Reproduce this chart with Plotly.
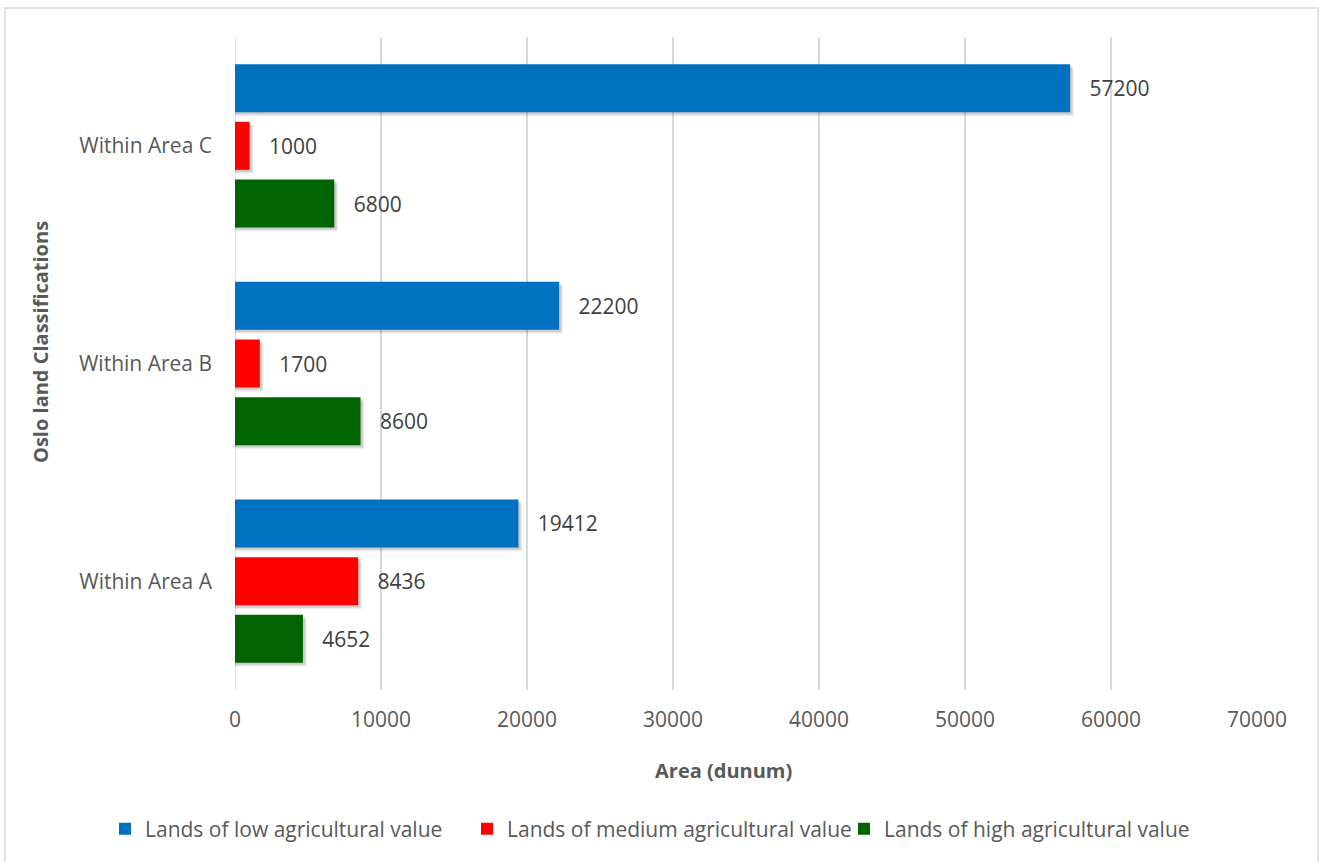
import plotly.graph_objects as go

categories = ["Within Area A", "Within Area B", "Within Area C"]
low_values = [19412, 22200, 57200]
medium_values = [8436, 1700, 1000]
high_values = [4652, 8600, 6800]
series_names = ["Lands of low agricultural value",
                "Lands of medium agricultural value",
                "Lands of high agricultural value"]
colors = ["#0070C0", "#FF0000", "#006400"]
x_ticks = [0, 10000, 20000, 30000, 40000, 50000, 60000, 70000]

W, H = 1322, 862
L, R, T, B = 235, 65, 37, 172
pw, ph = W - L - R, H - T - B

FONT = "Open Sans"
TXT = "#595959"
FS = 21
NB = "\u00a0"

# geometry of bars within one category band (in category units)
band_px = ph / len(categories)
bar_w = 48 / band_px
pitch = 57.7 / band_px
offsets = [pitch - bar_w / 2, -bar_w / 2, -pitch - bar_w / 2]  # low, medium, high
xunit_per_px = 70000 / pw

series = [low_values, medium_values, high_values]


def px_x(p):
    return (p - L) / pw


def px_y(p):
    return (H - B - p) / ph


fig = go.Figure()

# soft drop shadows (drawn first)
for vals, off in zip(series, offsets):
    for k, a in [(4, 0.05), (3, 0.07), (2, 0.09)]:
        fig.add_trace(go.Bar(
            y=categories, x=[v + k * xunit_per_px for v in vals], orientation="h",
            offset=off - k / band_px, width=bar_w,
            marker=dict(color=f"rgba(0,0,0,{a})", line=dict(width=0)),
            showlegend=False, hoverinfo="skip",
        ))

legend_ids = ["legend", "legend2", "legend3"]
legend_left_px = [105, 467, 844]

for i, (name, vals, col, off) in enumerate(zip(series_names, series, colors, offsets)):
    fig.add_trace(go.Bar(
        y=categories, x=vals, name=name, orientation="h",
        offset=off, width=bar_w,
        marker=dict(color=col, line=dict(width=0)),
        text=[NB * 3 + str(v) for v in vals], textposition="outside",
        textfont=dict(family=FONT, size=FS, color="#404040"),
        cliponaxis=False, legend=legend_ids[i],
    ))

legend_common = dict(
    orientation="h", xanchor="left", y=px_y(829), yanchor="middle",
    font=dict(family=FONT, size=FS, color=TXT), itemwidth=30,
    bgcolor="rgba(0,0,0,0)", borderwidth=0,
)

fig.update_layout(
    width=W, height=H,
    margin=dict(l=L, r=R, t=T, b=B, autoexpand=False),
    paper_bgcolor="white", plot_bgcolor="white",
    barmode="overlay",
    font=dict(family=FONT, size=FS, color=TXT),
    xaxis=dict(
        range=[0, 70000], tickvals=x_ticks, ticktext=[str(t) for t in x_ticks],
        showgrid=True, gridcolor="#D9D9D9", gridwidth=1.5,
        zeroline=False, showline=False, ticks="",
        ticklabelstandoff=15,
        tickfont=dict(family=FONT, size=FS, color=TXT),
    ),
    yaxis=dict(
        categoryorder="array", categoryarray=categories,
        range=[-0.5, 2.5],
        showgrid=False, zeroline=False, showline=False, ticks="",
        ticklabelstandoff=22,
        tickfont=dict(family=FONT, size=FS, color=TXT),
    ),
    legend=dict(x=px_x(legend_left_px[0]), **legend_common),
    legend2=dict(x=px_x(legend_left_px[1]), **legend_common),
    legend3=dict(x=px_x(legend_left_px[2]), **legend_common),
    showlegend=True,
    annotations=[
        dict(text="<b>Area (dunum)</b>", xref="paper", yref="paper",
             x=px_x(723), y=px_y(770), xanchor="center", yanchor="middle",
             showarrow=False, font=dict(family=FONT, size=FS - 1, color=TXT)),
        dict(text="<b>Oslo land Classifications</b>", xref="paper", yref="paper",
             x=px_x(40), y=px_y(342), xanchor="center", yanchor="middle",
             textangle=-90, showarrow=False, font=dict(family=FONT, size=FS - 1, color=TXT)),
    ],
    shapes=[
        dict(type="rect", xref="paper", yref="paper",
             x0=px_x(5), x1=px_x(1318), y0=px_y(875), y1=px_y(8),
             line=dict(color="#D9D9D9", width=1.5), fillcolor="rgba(0,0,0,0)", layer="below"),
        dict(type="line", xref="x", yref="paper", x0=0, x1=0, y0=0, y1=1,
             line=dict(color="#D9D9D9", width=1.5), layer="below"),
    ],
)

fig.write_html("out.html", config={"displayModeBar": False},
               post_script="document.body.style.margin='0px';")
